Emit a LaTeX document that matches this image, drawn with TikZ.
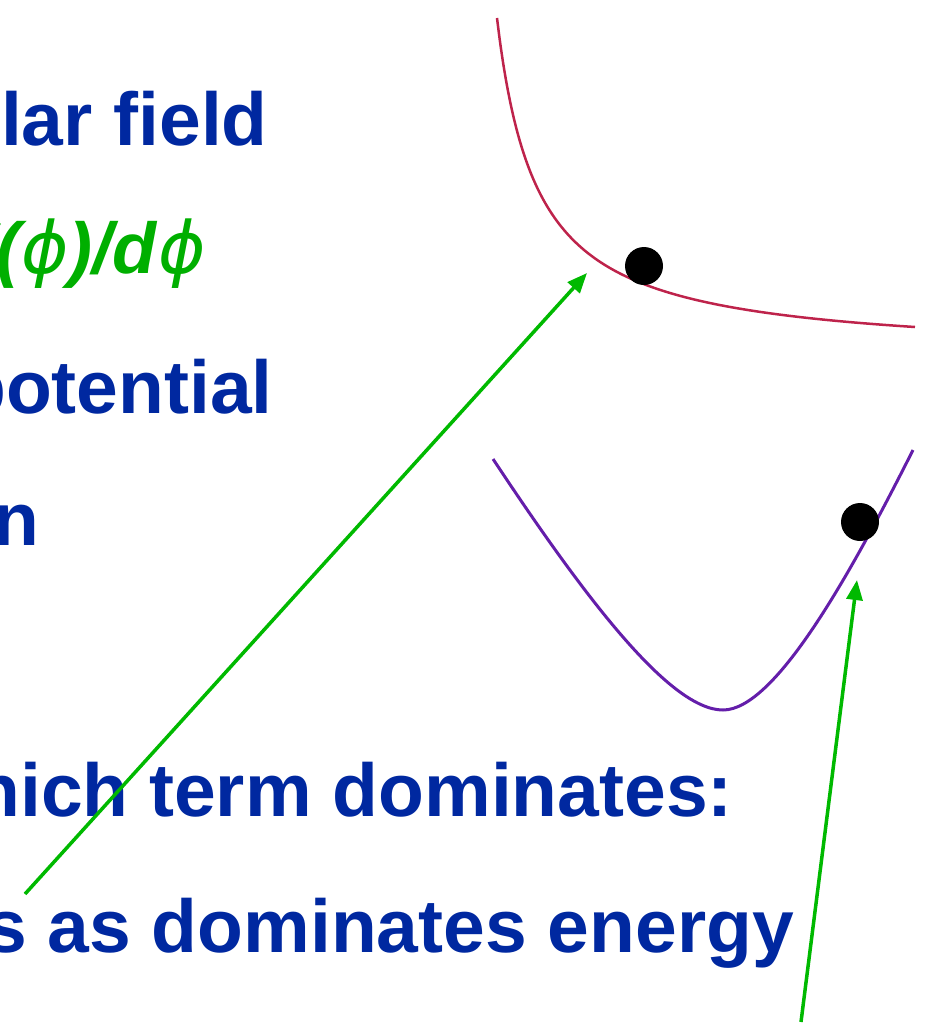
\documentclass[tikz,border=0pt]{standalone}
\usepackage{fontspec}
\setmainfont{Liberation Sans}
\newfontfamily\phifont{DejaVu Sans}
\usetikzlibrary{arrows.meta}
\definecolor{txtblue}{RGB}{0,40,160}
\definecolor{txtgreen}{RGB}{0,175,0}
\definecolor{arrgreen}{RGB}{0,185,0}
\definecolor{curvered}{RGB}{190,35,75}
\definecolor{curvepurple}{RGB}{100,30,170}
\newcommand{\myphi}{{\phifont\itshape\mdseries ϕ}}
\begin{document}
\begin{tikzpicture}[x=1pt,y=-1pt,
  txt/.style={anchor=base east, inner sep=0pt, text=txtblue,
    font=\fontsize{75}{80}\selectfont\bfseries},
  gtxt/.style={anchor=base east, inner sep=0pt, text=txtgreen,
    font=\fontsize{72}{78}\selectfont\bfseries\itshape},
  ball/.style={circle, fill=black, inner sep=0pt, minimum size=38pt},
  pointer/.style={draw=arrgreen, line width=3.5pt,
    -{Triangle[length=20pt,width=16pt]}},
  redcurve/.style={draw=curvered, line width=2.5pt},
  purplecurve/.style={draw=curvepurple, line width=3pt}]
\useasboundingbox (0,0) rectangle (930,1029);
\clip (0,0) rectangle (930,1029);

% texts (cut off at the left edge)
\node[txt] (t1) at (268,145) {lar field};
\node[gtxt] (t2) at (206,273) {V(\kern1pt\myphi\kern-1pt)/d\kern2pt\myphi};
\node[txt] (t3) at (273,413) {potential};
\node[txt] (t4) at (40,545) {n};
\node[txt] (t5) at (733,816) {hich term dominates:};
\node[txt] (t6) at (794,952) {s as dominates energy};

% curves
\draw[redcurve] plot[domain=497:915, samples=150, smooth]
  (\x, {356.57 - 13543/(\x-457)});
\draw[purplecurve] (493,459) .. controls (585,598) and (670,710) .. (723,710)
  .. controls (775,710) and (850,575) .. (913,450);

% balls
\node[ball] (b1) at (644,266) {};
\node[ball] (b2) at (860,522) {};

% arrows
\coordinate (a1tail) at (25,894);
\coordinate (a1tip) at (587,273);
\coordinate (a2tail) at (801,1022);
\coordinate (a2tip) at (857,580);
\draw[pointer] (a1tail) -- (a1tip);
\draw[pointer] (a2tail) -- (a2tip);
\end{tikzpicture}
\end{document}
